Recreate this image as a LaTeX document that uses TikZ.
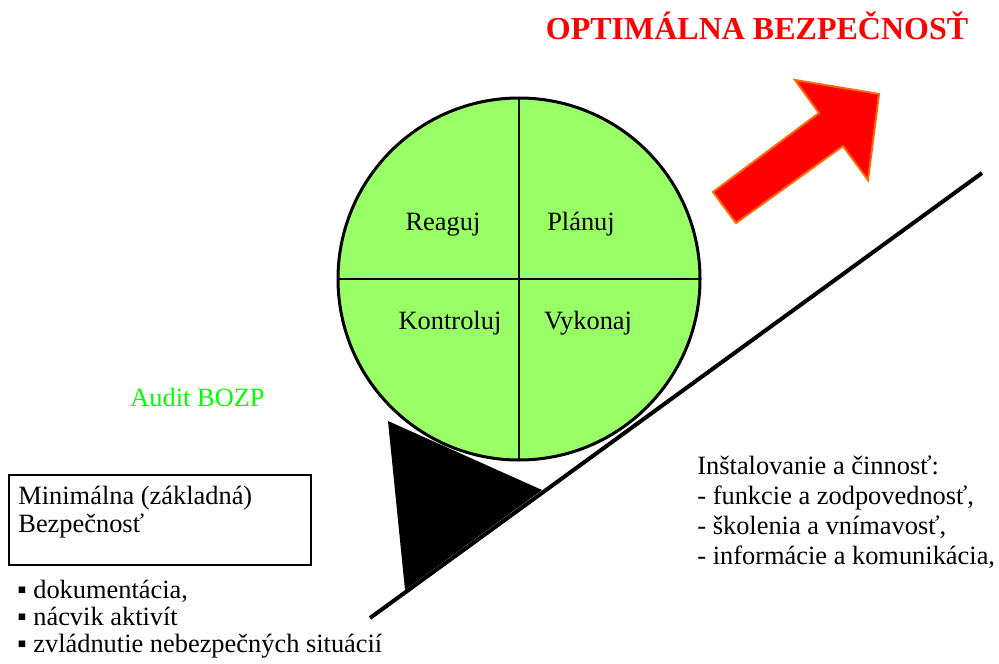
\documentclass[tikz,border=0pt]{standalone}
\usepackage{fontspec}
\setmainfont{Liberation Serif}
\definecolor{ballgreen}{RGB}{153,255,102}
\definecolor{arroworange}{RGB}{255,102,0}
\begin{document}
\begin{tikzpicture}[x=0.5pt, y=-0.5pt,
  txt/.style = {inner sep=0pt, font=\fontsize{13.2}{15}\selectfont},
  quad/.style = {txt, anchor=base}]
  \useasboundingbox (0,0) rectangle (999,663);
  \coordinate (O) at (519,279);
  \coordinate (w1) at (388,421);
  \coordinate (w2) at (405,590);
  \coordinate (w3) at (542,490);
  \coordinate (s1) at (370,618);
  \coordinate (s2) at (982,173);
  % wedge under the ball
  \fill (w1) -- (w2) -- (w3) -- cycle;
  % ball
  \filldraw[fill=ballgreen, line width=1.5pt] (O) circle [radius=181];
  % quadrants of the ball
  \draw[line width=1pt] (O) ++(0,-181) -- ++(0,362);
  \draw[line width=1pt] (O) ++(-181,0) -- ++(362,0);
  \node[quad] (reaguj) at (443,230) {Reaguj};
  \node[quad] (planuj) at (581,230) {Plánuj};
  \node[quad] (kontroluj) at (450,329) {Kontroluj};
  \node[quad] (vykonaj) at (588,329) {Vykonaj};
  % slope
  \draw[line width=2pt] (s1) -- (s2);
  % arrow up to the goal
  \filldraw[fill=red, draw=arroworange, line width=1pt] (713,192) -- (819,113) -- (795,80) -- (879,94) -- (868,180) -- (843,146) -- (736,223) -- cycle;
  \node[txt, anchor=base, text=red, font=\fontsize{16}{19}\selectfont\bfseries] (title) at (757,40) {OPTIMÁLNA BEZPEČNOSŤ};
  % audit
  \node[txt, anchor=base west, text=green] (audit) at (130,406) {Audit BOZP};
  % minimal safety box (base = last line)
  \draw[line width=1pt] (9,475) rectangle (311,565);
  \node[txt, anchor=base west, align=left, font=\fontsize{13.2}{14}\selectfont] (minimal) at (18,532) {Minimálna (základná)\\Bezpečnosť};
  \node[txt, anchor=base west, align=left, font=\fontsize{13.2}{13.5}\selectfont] (bullets) at (17,652) {▪ dokumentácia,\\▪ nácvik aktivít\\▪ zvládnutie nebezpečných situácií};
  % installing and activity
  \node[txt, anchor=base west, align=left] (install) at (697,564) {Inštalovanie a činnosť:\\- funkcie a zodpovednosť,\\- školenia a vnímavosť,\\- informácie a komunikácia,};
\end{tikzpicture}
\end{document}
